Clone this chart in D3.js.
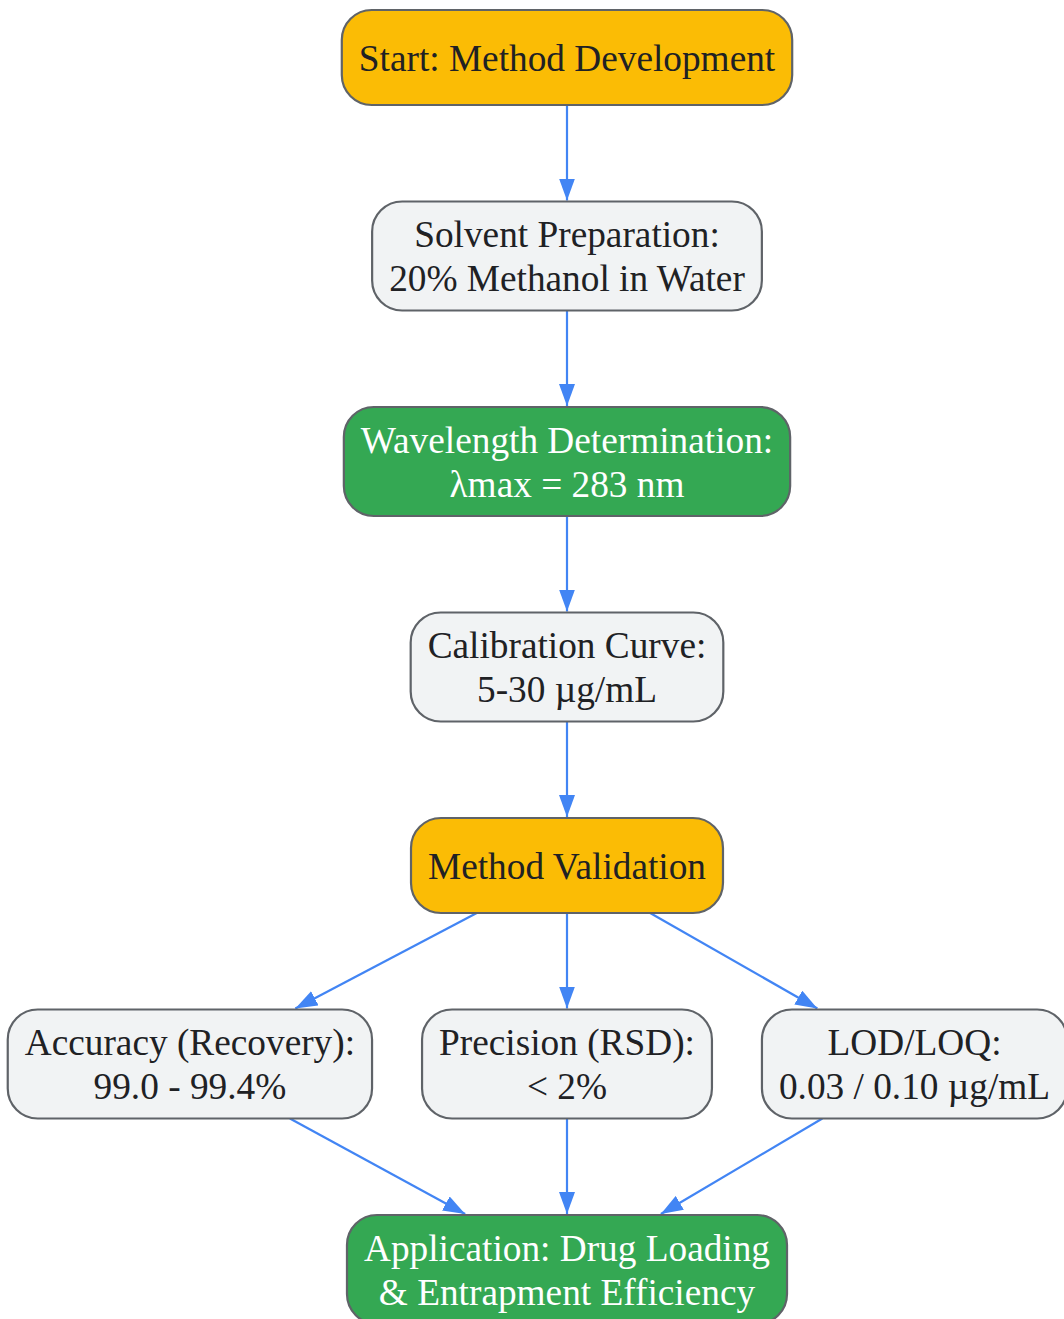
<!DOCTYPE html>
<html><head><meta charset="utf-8">
<script src="https://cdn.jsdelivr.net/npm/d3@7"></script>
<style>html,body{margin:0;padding:0;background:#fff;}svg{display:block;}</style>
</head><body>
<svg id="chart" width="1064" height="1319"></svg>
<script>
// ---- data ----
const nodeIds = ["start","solvent","wave","calib","valid","acc","prec","lod","app"];
const nodeLabels = [
  ["Start: Method Development"],
  ["Solvent Preparation:", "20% Methanol in Water"],
  ["Wavelength Determination:", "λmax = 283 nm"],
  ["Calibration Curve:", "5-30 µg/mL"],
  ["Method Validation"],
  ["Accuracy (Recovery):", "99.0 - 99.4%"],
  ["Precision (RSD):", "< 2%"],
  ["LOD/LOQ:", "0.03 / 0.10 µg/mL"],
  ["Application: Drug Loading", "& Entrapment Efficiency"]
];
const nodeKinds = ["key","step","result","step","key","step","step","step","result"];
const nodeRanks = [0,1,2,3,4,5,5,5,6];
const edgeList = [
  ["start","solvent"],["solvent","wave"],["wave","calib"],["calib","valid"],
  ["valid","acc"],["valid","prec"],["valid","lod"],
  ["acc","app"],["prec","app"],["lod","app"]
];

// ---- styles ----
const fills = {key:"#FBBC05", step:"#F1F3F4", result:"#34A853"};
const textFill = {key:"#202124", step:"#202124", result:"#FFFFFF"};
const fontSize = 37.3, lineH = 44, padX = 17, gapY = 96.5, gapX = 50, top0 = 10, centerX = 567;

const svg = d3.select("#chart");
const gEdges = svg.append("g");
const gNodes = svg.append("g");

svg.append("defs").append("marker")
  .attr("id","arrow").attr("viewBox","0 0 22 16").attr("refX",22).attr("refY",8)
  .attr("markerWidth",22).attr("markerHeight",16).attr("markerUnits","userSpaceOnUse")
  .attr("orient","auto")
  .append("path").attr("d","M0,0 L22,8 L0,16 Z").attr("fill","#4285F4");

// measure text
const meas = svg.append("text").attr("font-family","'Liberation Serif', 'Times New Roman', serif").attr("font-size",fontSize);
const nodes = nodeIds.map((id,i)=>{
  const w = d3.max(nodeLabels[i], s=>{ meas.text(s); return meas.node().getComputedTextLength(); });
  const lines = nodeLabels[i].length;
  return {id, label:nodeLabels[i], kind:nodeKinds[i], rank:nodeRanks[i], w:w+2*padX, h: lines===1?95:109};
});
meas.remove();

// layout by rank
const ranks = d3.groups(nodes, d=>d.rank).sort((a,b)=>a[0]-b[0]);
let y = top0;
ranks.forEach(([r, ns])=>{
  const hMax = d3.max(ns, d=>d.h);
  const mid = Math.floor(ns.length/2);
  ns.forEach(d=>{ d.cy = y + hMax/2; });
  ns[mid].cx = centerX;
  for (let k=mid-1;k>=0;k--) ns[k].cx = ns[k+1].cx - ns[k+1].w/2 - gapX - ns[k].w/2;
  for (let k=mid+1;k<ns.length;k++) ns[k].cx = ns[k-1].cx + ns[k-1].w/2 + gapX + ns[k].w/2;
  y += hMax + gapY;
});
const byId = new Map(nodes.map(d=>[d.id,d]));

// edges: centre-to-centre lines clipped at bottom/top borders
edgeList.forEach(([s,t])=>{
  const a = byId.get(s), b = byId.get(t);
  const y1 = a.cy + a.h/2, y2 = b.cy - b.h/2 - 1;
  const slope = (b.cx - a.cx)/(b.cy - a.cy);
  const x1 = a.cx + slope*(y1 - a.cy), x2 = a.cx + slope*(y2 - a.cy);
  gEdges.append("line").attr("x1",x1).attr("y1",y1).attr("x2",x2).attr("y2",y2)
    .attr("stroke","#4285F4").attr("stroke-width",2.2).attr("marker-end","url(#arrow)");
});

// nodes
const ng = gNodes.selectAll("g").data(nodes).join("g");
ng.append("rect")
  .attr("x",d=>d.cx-d.w/2).attr("y",d=>d.cy-d.h/2).attr("width",d=>d.w).attr("height",d=>d.h)
  .attr("rx",30).attr("ry",30)
  .attr("fill",d=>fills[d.kind]).attr("stroke","#5F6368").attr("stroke-width",2.2);
ng.each(function(d){
  const n = d.label.length;
  d3.select(this).selectAll("text").data(d.label).join("text")
    .attr("x",d.cx).attr("y",(s,i)=>d.cy + (i-(n-1)/2)*lineH)
    .attr("dy","0.35em").attr("text-anchor","middle")
    .attr("font-family","'Liberation Serif', 'Times New Roman', serif").attr("font-size",fontSize)
    .attr("fill",textFill[d.kind]).text(s=>s);
});
</script>
</body></html>
